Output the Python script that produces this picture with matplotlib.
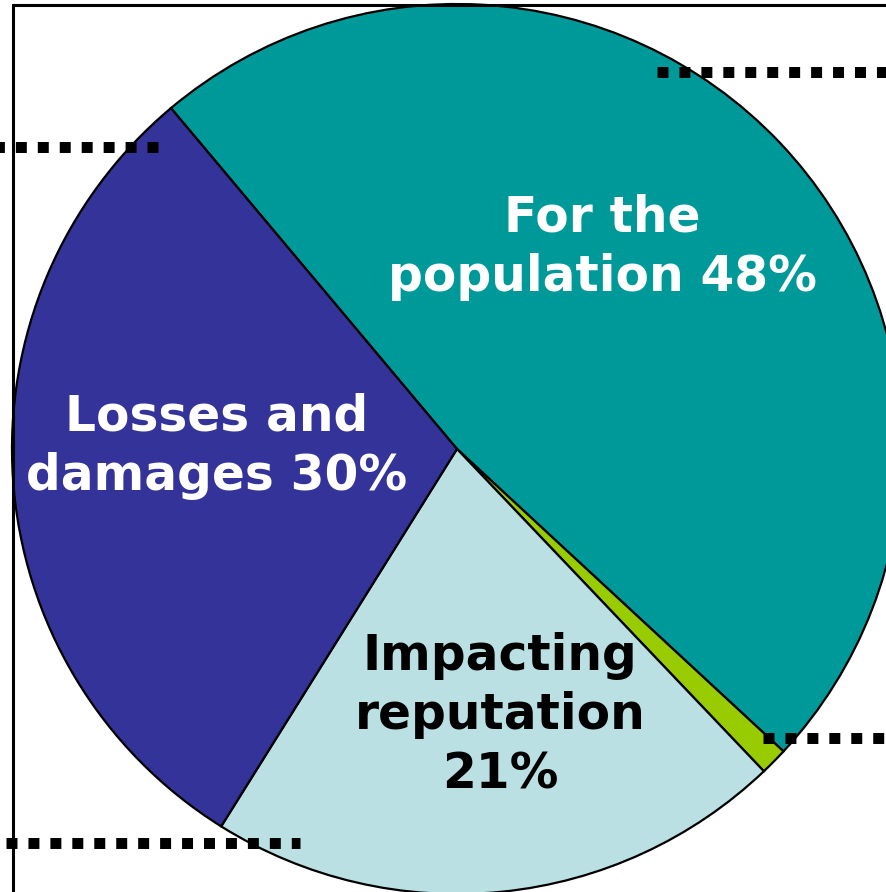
import matplotlib.pyplot as plt

# slice data (clockwise from upper left)
labels = ["For the\npopulation 48%", "", "Impacting\nreputation\n21%", "Losses and\ndamages 30%"]
shares = [48, 1, 21, 30]
colors = ["#009999", "#99CC00", "#BBE0E3", "#333399"]
text_colors = ["white", "white", "black", "white"]
# label anchor, in pixels from top-left of the image
label_pos = [(602, 247), None, (500, 715), (217, 446)]

W, H = 886, 892
fig = plt.figure(figsize=(W / 100, H / 100), dpi=100)
ax = fig.add_axes([0, 0, 1, 1])

cx, cy, r = 457, H - 449, 445
wedges, _ = ax.pie(shares, colors=colors, startangle=130, counterclock=False,
                   center=(cx, cy), radius=r, frame=True,
                   wedgeprops=dict(edgecolor="black", linewidth=1.6))
ax.set_xlim(0, W)
ax.set_ylim(0, H)
ax.set_aspect("equal")
ax.axis("off")

for lab, pos, tc in zip(labels, label_pos, text_colors):
    if pos is None:
        continue
    ax.text(pos[0], H - pos[1], lab, ha="center", va="center", color=tc,
            fontsize=35, fontweight="bold", family="DejaVu Sans",
            linespacing=1.3)

# frame lines on the left and top
ax.plot([13, 13, W + 5], [-5, H - 5, H - 5], color="black", lw=2.2,
        solid_joinstyle="miter")

# dotted leader lines (start x, end x, y)
leaders = [(657, W + 20, 72), (158, -20, 147), (6, 300, 843), (763, W + 20, 738)]
for x0, x1, y in leaders:
    ax.plot([x0, x1], [H - y, H - y], color="black", lw=7.9,
            linestyle=(0, (1, 1)), dash_capstyle="butt")

fig.savefig("out.png", dpi=100)
